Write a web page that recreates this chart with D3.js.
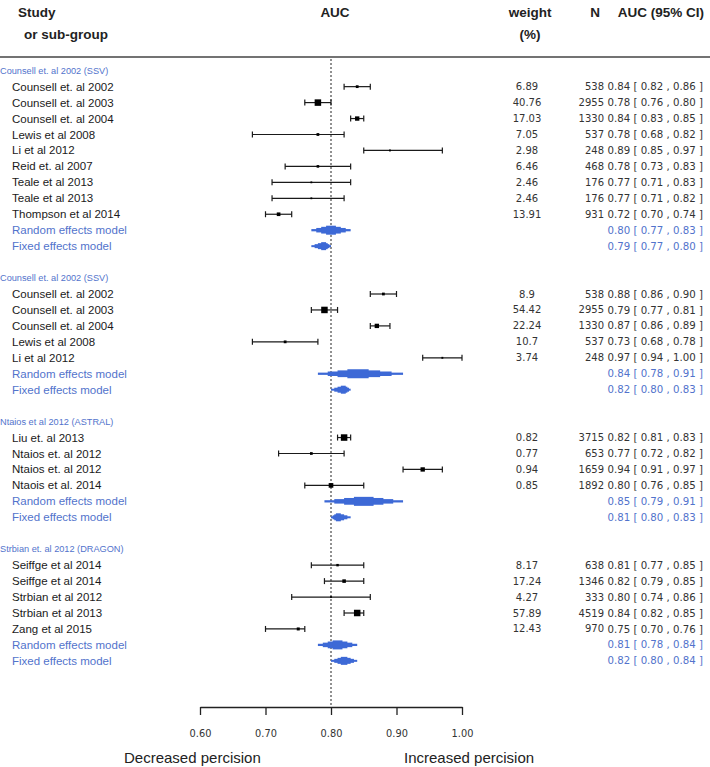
<!DOCTYPE html>
<html><head><meta charset="utf-8">
<script src="https://cdn.jsdelivr.net/npm/d3@7/dist/d3.min.js"></script>
<style>body{margin:0;background:#fff}svg{display:block}</style>
</head><body><svg id="c" width="710" height="767"></svg>
<script>
// ---------- data ----------
const groupLabels = ["Counsell et. al 2002 (SSV)", "Counsell et. al 2002 (SSV)", "Ntaios et al 2012 (ASTRAL)", "Strbian et. al 2012 (DRAGON)"];
const studyGroup = [0,0,0,0,0,0,0,0,0, 1,1,1,1,1, 2,2,2,2, 3,3,3,3,3];
const studyNames = [
  "Counsell et. al 2002","Counsell et. al 2003","Counsell et. al 2004","Lewis et al 2008","Li et al 2012","Reid et. al 2007","Teale et al 2013","Teale et al 2013","Thompson et al 2014",
  "Counsell et. al 2002","Counsell et. al 2003","Counsell et. al 2004","Lewis et al 2008","Li et al 2012",
  "Liu et. al 2013","Ntaios et. al 2012","Ntaios et. al 2012","Ntaois et al. 2014",
  "Seiffge et al 2014","Seiffge et al 2014","Strbian et al 2012","Strbian et al 2013","Zang et al 2015"];
const studyWeight = [6.89,40.76,17.03,7.05,2.98,6.46,2.46,2.46,13.91, 8.9,54.42,22.24,10.7,3.74, 0.82,0.77,0.94,0.85, 8.17,17.24,4.27,57.89,12.43];
const studyN = [538,2955,1330,537,248,468,176,176,931, 538,2955,1330,537,248, 3715,653,1659,1892, 638,1346,333,4519,970];
const studyAUC = [0.84,0.78,0.84,0.78,0.89,0.78,0.77,0.77,0.72, 0.88,0.79,0.87,0.73,0.97, 0.82,0.77,0.94,0.80, 0.81,0.82,0.80,0.84,0.75];
const studyLo  = [0.82,0.76,0.83,0.68,0.85,0.73,0.71,0.71,0.70, 0.86,0.77,0.86,0.68,0.94, 0.81,0.72,0.91,0.76, 0.77,0.79,0.74,0.82,0.70];
const studyHi  = [0.86,0.80,0.85,0.82,0.97,0.83,0.83,0.82,0.74, 0.90,0.81,0.89,0.78,1.00, 0.83,0.82,0.97,0.85, 0.85,0.85,0.86,0.85,0.76];
const modelNames = ["Random effects model", "Fixed effects model"];
const randomAUC = [0.80,0.84,0.85,0.81];
const randomLo  = [0.77,0.78,0.79,0.78];
const randomHi  = [0.83,0.91,0.91,0.84];
const fixedAUC  = [0.79,0.82,0.81,0.82];
const fixedLo   = [0.77,0.80,0.80,0.80];
const fixedHi   = [0.80,0.83,0.83,0.84];
const axisTicks = [0.60,0.70,0.80,0.90,1.00];
const refLine = 0.80;
const headers = {study:["Study","or sub-group"], auc:"AUC", weight:["weight","(%)"], n:"N", ci:"AUC (95% CI)"};
const sideLabels = ["Decreased percision", "Increased percision"];

// ---------- layout ----------
const svg = d3.select("#c");
const x = d3.scaleLinear().domain([0.6, 1.0]).range([200, 462]);
const nRows = 38;
const y = d3.scaleLinear().domain([0, nRows - 1]).range([70.7, 70.7 + 15.95 * (nRows - 1)]);
const blue = "#3d69d6", blueText = "#5273cc", ink = "#1a1a1a", numInk = "#333";
const f2 = d3.format(".2f");
const ciText = (a, l, h) => `${f2(a)} [ ${f2(l)} , ${f2(h)} ]`;
const labelFont = "'Liberation Sans', Arial, sans-serif";
const numFont = "'DejaVu Sans', sans-serif";

// build rows
const rows = [];
let r = 0;
groupLabels.forEach((g, gi) => {
  rows.push({type: "group", label: g, row: r++});
  const idx = d3.range(studyNames.length).filter(i => studyGroup[i] === gi);
  const maxN = d3.max(idx, i => studyN[i]);
  idx.forEach(i => rows.push({type: "study", i, row: r++, maxN}));
  rows.push({type: "model", kind: 0, g: gi, row: r++, auc: randomAUC[gi], lo: randomLo[gi], hi: randomHi[gi]});
  rows.push({type: "model", kind: 1, g: gi, row: r++, auc: fixedAUC[gi], lo: fixedLo[gi], hi: fixedHi[gi]});
  r++;
});

// header
const hFont = "'Liberation Sans', Arial, sans-serif";
const hdr = svg.append("g").attr("font-family", hFont).attr("font-weight", "bold").attr("font-size", 13.5).attr("fill", "#222");
hdr.append("text").attr("x", 18).attr("y", 17).text(headers.study[0]);
hdr.append("text").attr("x", 24).attr("y", 39).text(headers.study[1]);
hdr.append("text").attr("x", x(refLine) + 4).attr("y", 17).attr("text-anchor", "middle").text(headers.auc);
hdr.append("text").attr("x", 530).attr("y", 17).attr("text-anchor", "middle").text(headers.weight[0]);
hdr.append("text").attr("x", 530).attr("y", 39).attr("text-anchor", "middle").text(headers.weight[1]);
hdr.append("text").attr("x", 595).attr("y", 17).attr("text-anchor", "middle").text(headers.n);
hdr.append("text").attr("x", 704).attr("y", 17).attr("text-anchor", "end").text(headers.ci);
svg.append("line").attr("x1", 0).attr("x2", 710).attr("y1", 57).attr("y2", 57).attr("stroke", "#444").attr("stroke-width", 1.5);

// reference dotted line
svg.append("line").attr("x1", x(refLine)).attr("x2", x(refLine)).attr("y1", 59).attr("y2", 707)
  .attr("stroke", "#222").attr("stroke-width", 1).attr("stroke-dasharray", "2,2");

// rows
rows.forEach(d => {
  const yy = y(d.row);
  if (d.type === "group") {
    svg.append("text").attr("x", 0).attr("y", yy).attr("dy", "0.35em")
      .attr("font-family", labelFont).attr("font-size", 9.2).attr("fill", blueText).text(d.label);
  } else if (d.type === "study") {
    const i = d.i;
    svg.append("text").attr("x", 12).attr("y", yy).attr("dy", "0.35em")
      .attr("font-family", labelFont).attr("font-size", 11.5).attr("fill", ink).text(studyNames[i]);
    const g = svg.append("g").attr("stroke", ink).attr("stroke-width", 1.2);
    g.append("line").attr("x1", x(studyLo[i])).attr("x2", x(studyHi[i])).attr("y1", yy).attr("y2", yy);
    g.append("line").attr("x1", x(studyLo[i])).attr("x2", x(studyLo[i])).attr("y1", yy - 3).attr("y2", yy + 3);
    g.append("line").attr("x1", x(studyHi[i])).attr("x2", x(studyHi[i])).attr("y1", yy - 3).attr("y2", yy + 3);
    const s = Math.max(1.8, 6.5 * Math.sqrt(studyN[i] / d.maxN));
    svg.append("rect").attr("x", x(studyAUC[i]) - s / 2).attr("y", yy - s / 2).attr("width", s).attr("height", s).attr("fill", "#000");
    const t = svg.append("g").attr("font-family", numFont).attr("font-size", 10).attr("fill", numInk);
    t.append("text").attr("x", 527).attr("y", yy).attr("dy", "0.35em").attr("text-anchor", "middle").text(String(studyWeight[i]));
    t.append("text").attr("x", 604).attr("y", yy).attr("dy", "0.35em").attr("text-anchor", "end").text(String(studyN[i]));
    t.append("text").attr("x", 607.5).attr("y", yy).attr("dy", "0.35em").attr("font-size", 10.2).text(ciText(studyAUC[i], studyLo[i], studyHi[i]));
  } else {
    svg.append("text").attr("x", 12).attr("y", yy).attr("dy", "0.35em")
      .attr("font-family", labelFont).attr("font-size", 11.5).attr("fill", blueText).text(modelNames[d.kind]);
    // stepped diamond
    const H = d.kind === 0 ? 9 : 8, levels = 4;
    const cx = x(d.auc), lx = x(d.lo), hx = x(d.hi);
    for (let j = 0; j < levels; j++) {
      const fr = 1 - j / levels;
      const h = H * (j + 1) / levels;
      const x0 = cx - (cx - lx) * fr, x1 = cx + (hx - cx) * fr;
      svg.append("rect").attr("x", x0).attr("y", yy - h / 2).attr("width", x1 - x0).attr("height", h).attr("fill", blue);
    }
    svg.append("text").attr("x", 607.5).attr("y", yy).attr("dy", "0.35em")
      .attr("font-family", numFont).attr("font-size", 10.2).attr("fill", blueText).text(ciText(d.auc, d.lo, d.hi));
  }
});

// axis
const axis = d3.axisBottom(x).tickValues(axisTicks).tickFormat(f2).tickSize(8).tickSizeOuter(0).tickPadding(15);
const ag = svg.append("g").attr("transform", "translate(0,707)").call(axis);
ag.select(".domain").attr("stroke", "#222").attr("stroke-width", 1.3);
ag.selectAll(".tick line").attr("stroke", "#222").attr("stroke-width", 1.3);
ag.selectAll(".tick text").attr("font-family", numFont).attr("font-size", 9.8).attr("fill", "#333");

svg.append("text").attr("x", 124).attr("y", 758).attr("dy", "0.35em").attr("font-family", labelFont)
  .attr("font-size", 15).attr("fill", "#222").text(sideLabels[0]);
svg.append("text").attr("x", 404).attr("y", 758).attr("dy", "0.35em").attr("font-family", labelFont)
  .attr("font-size", 15).attr("fill", "#222").text(sideLabels[1]);
</script></body></html>
